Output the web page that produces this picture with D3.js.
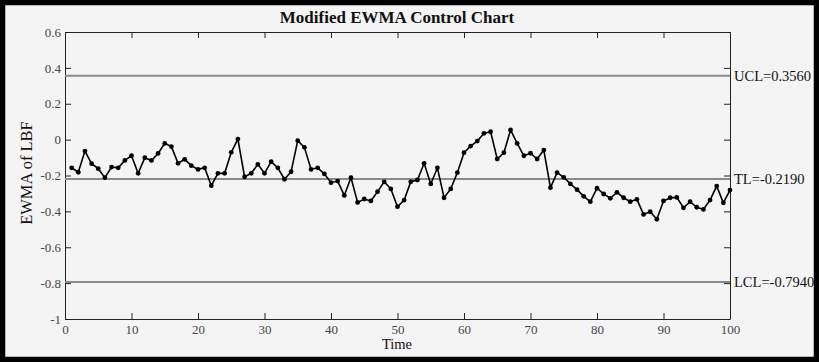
<!DOCTYPE html>
<html>
<head>
<meta charset="utf-8">
<script src="https://d3js.org/d3.v7.min.js"></script>
<style>
  body { margin: 0; background: #f4f4f4; }
  text { font-family: "Liberation Serif", "Times New Roman", serif; }
</style>
</head>
<body>
<svg width="819" height="362"></svg>
<script>
// EWMA values, time = 1..100
var ewma = [
  -0.157, -0.182, -0.064, -0.134, -0.162, -0.212, -0.153, -0.157, -0.116, -0.090,
  -0.188, -0.101, -0.116, -0.077, -0.021, -0.039, -0.132, -0.110, -0.145, -0.166,
  -0.157, -0.257, -0.188, -0.188, -0.071, 0.003, -0.207, -0.188, -0.138, -0.188,
  -0.123, -0.157, -0.221, -0.179, -0.006, -0.043, -0.166, -0.157, -0.191, -0.240,
  -0.231, -0.311, -0.212, -0.350, -0.331, -0.342, -0.290, -0.235, -0.275, -0.374,
  -0.337, -0.235, -0.225, -0.132, -0.247, -0.157, -0.324, -0.275, -0.184, -0.073,
  -0.036, -0.008, 0.035, 0.044, -0.108, -0.073, 0.054, -0.021, -0.090, -0.076,
  -0.108, -0.058, -0.268, -0.184, -0.210, -0.247, -0.279, -0.316, -0.346, -0.271,
  -0.303, -0.327, -0.294, -0.324, -0.346, -0.333, -0.417, -0.402, -0.444, -0.342,
  -0.324, -0.322, -0.380, -0.346, -0.377, -0.389, -0.337, -0.259, -0.352, -0.281
];
var limitNames = ["UCL", "TL", "LCL"];
var limitValues = [0.356, -0.219, -0.794];
var yTicks = [0.6, 0.4, 0.2, 0, -0.2, -0.4, -0.6, -0.8, -1];
var xTicks = [0, 10, 20, 30, 40, 50, 60, 70, 80, 90, 100];

var svg = d3.select("svg");
var pLeft = 65, pRight = 730, pTop = 32, pBottom = 319;

var xs = d3.scaleLinear().domain([0, 100]).range([pLeft, pRight]);
var ys = d3.scaleLinear().domain([-1, 0.6]).range([pBottom, pTop]);

// outer frame
svg.append("rect")
  .attr("x", 2.5).attr("y", 2.5).attr("width", 814).attr("height", 357)
  .attr("fill", "#f4f4f4").attr("stroke", "#000").attr("stroke-width", 5.5);

// title
svg.append("text")
  .attr("x", 397).attr("y", 23)
  .attr("text-anchor", "middle")
  .attr("font-weight", "bold")
  .attr("fill", "#111")
  .style("font-size", "17px")
  .text("Modified EWMA Control Chart");

// axes, ticks inward on all sides
function styleAxis(g) {
  g.selectAll("path").attr("stroke", "#222");
  g.selectAll("line").attr("stroke", "#222");
  g.selectAll("text").attr("fill", "#444").style("font-size", "13px")
    .style("font-family", "Liberation Serif, serif");
}
svg.append("g").attr("transform", "translate(0," + pBottom + ")")
  .call(d3.axisBottom(xs).tickValues(xTicks).tickSizeInner(-6).tickSizeOuter(0).tickPadding(6))
  .call(styleAxis);
svg.append("g").attr("transform", "translate(0," + pTop + ")")
  .call(d3.axisTop(xs).tickValues(xTicks).tickSizeInner(-6).tickSizeOuter(0).tickFormat(""))
  .call(styleAxis);
svg.append("g").attr("transform", "translate(" + pLeft + ",0)")
  .call(d3.axisLeft(ys).tickValues(yTicks).tickSizeInner(-6).tickSizeOuter(0).tickPadding(4)
    .tickFormat(function(d) { return String(+d.toFixed(1)); }))
  .call(styleAxis);
svg.append("g").attr("transform", "translate(" + pRight + ",0)")
  .call(d3.axisRight(ys).tickValues(yTicks).tickSizeInner(-6).tickSizeOuter(0).tickFormat(""))
  .call(styleAxis);

// control limits
limitValues.forEach(function(v, i) {
  svg.append("line")
    .attr("x1", pLeft).attr("x2", pRight)
    .attr("y1", ys(v)).attr("y2", ys(v))
    .attr("stroke", "#8a8a8a").attr("stroke-width", 2);
  svg.append("text")
    .attr("x", pRight + 4).attr("y", ys(v))
    .attr("dy", "0.35em")
    .style("font-size", "14.5px")
    .attr("fill", "#111")
    .text(limitNames[i] + "=" + v.toFixed(4));
});

// EWMA line and points
var line = d3.line()
  .x(function(d, i) { return xs(i + 1); })
  .y(function(d) { return ys(d); });
svg.append("path")
  .datum(ewma)
  .attr("d", line)
  .attr("fill", "none")
  .attr("stroke", "#000")
  .attr("stroke-width", 1.6);
svg.selectAll("circle").data(ewma).enter().append("circle")
  .attr("cx", function(d, i) { return xs(i + 1); })
  .attr("cy", function(d) { return ys(d); })
  .attr("r", 2.4)
  .attr("fill", "#000");

// axis titles
svg.append("text")
  .attr("x", 397).attr("y", 349)
  .attr("text-anchor", "middle")
  .attr("fill", "#111")
  .style("font-size", "14.5px")
  .text("Time");
svg.append("text")
  .attr("transform", "translate(32,173) rotate(-90)")
  .attr("text-anchor", "middle")
  .attr("fill", "#111")
  .style("font-size", "16.5px")
  .text("EWMA of LBF");
</script>
</body>
</html>
